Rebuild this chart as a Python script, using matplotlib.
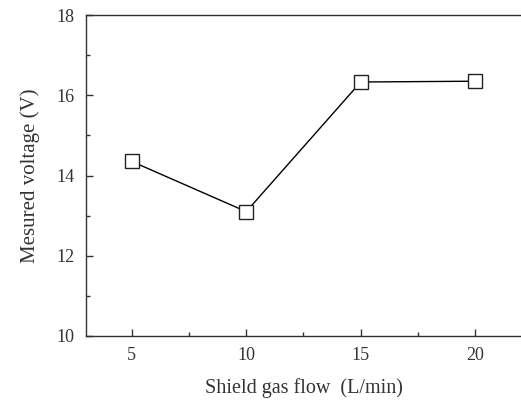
import matplotlib
matplotlib.use("Agg")
import matplotlib.pyplot as plt
from matplotlib.ticker import MultipleLocator

flow = [5, 10, 15, 20]
voltage = [14.35, 13.1, 16.33, 16.35]

plt.rcParams["font.family"] = ["Liberation Serif", "DejaVu Serif"]

fig = plt.figure(figsize=(5.21, 4.03), dpi=100)
ax = fig.add_axes([86 / 521, 67 / 403, 1 - 86 / 521, 321 / 403])

ax.plot(flow, voltage, color="black", linewidth=1.0, marker="s", markersize=10.5,
        markerfacecolor="white", markeredgecolor="#222222", markeredgewidth=1.0)

ax.set_xlim(3, 22)
ax.set_ylim(10, 18)
ax.xaxis.set_major_locator(MultipleLocator(5))
ax.xaxis.set_minor_locator(MultipleLocator(2.5))
ax.yaxis.set_major_locator(MultipleLocator(2))
ax.yaxis.set_minor_locator(MultipleLocator(1))
ax.tick_params(which="both", direction="in", top=False, right=False, colors="#333333",
               labelsize=13, width=1.0)
ax.tick_params(which="major", length=5, pad=8)
ax.tick_params(which="minor", length=3)
ax.spines["right"].set_visible(False)
for s in ("left", "bottom", "top"):
    ax.spines[s].set_color("#333333")
    ax.spines[s].set_linewidth(1.0)

ax.set_xlabel("Shield gas flow  (L/min)", fontsize=14.5, color="#333333", labelpad=10)
ax.set_ylabel("Mesured voltage (V)", fontsize=15, color="#333333", labelpad=12)

fig.savefig("out.png", dpi=100)
